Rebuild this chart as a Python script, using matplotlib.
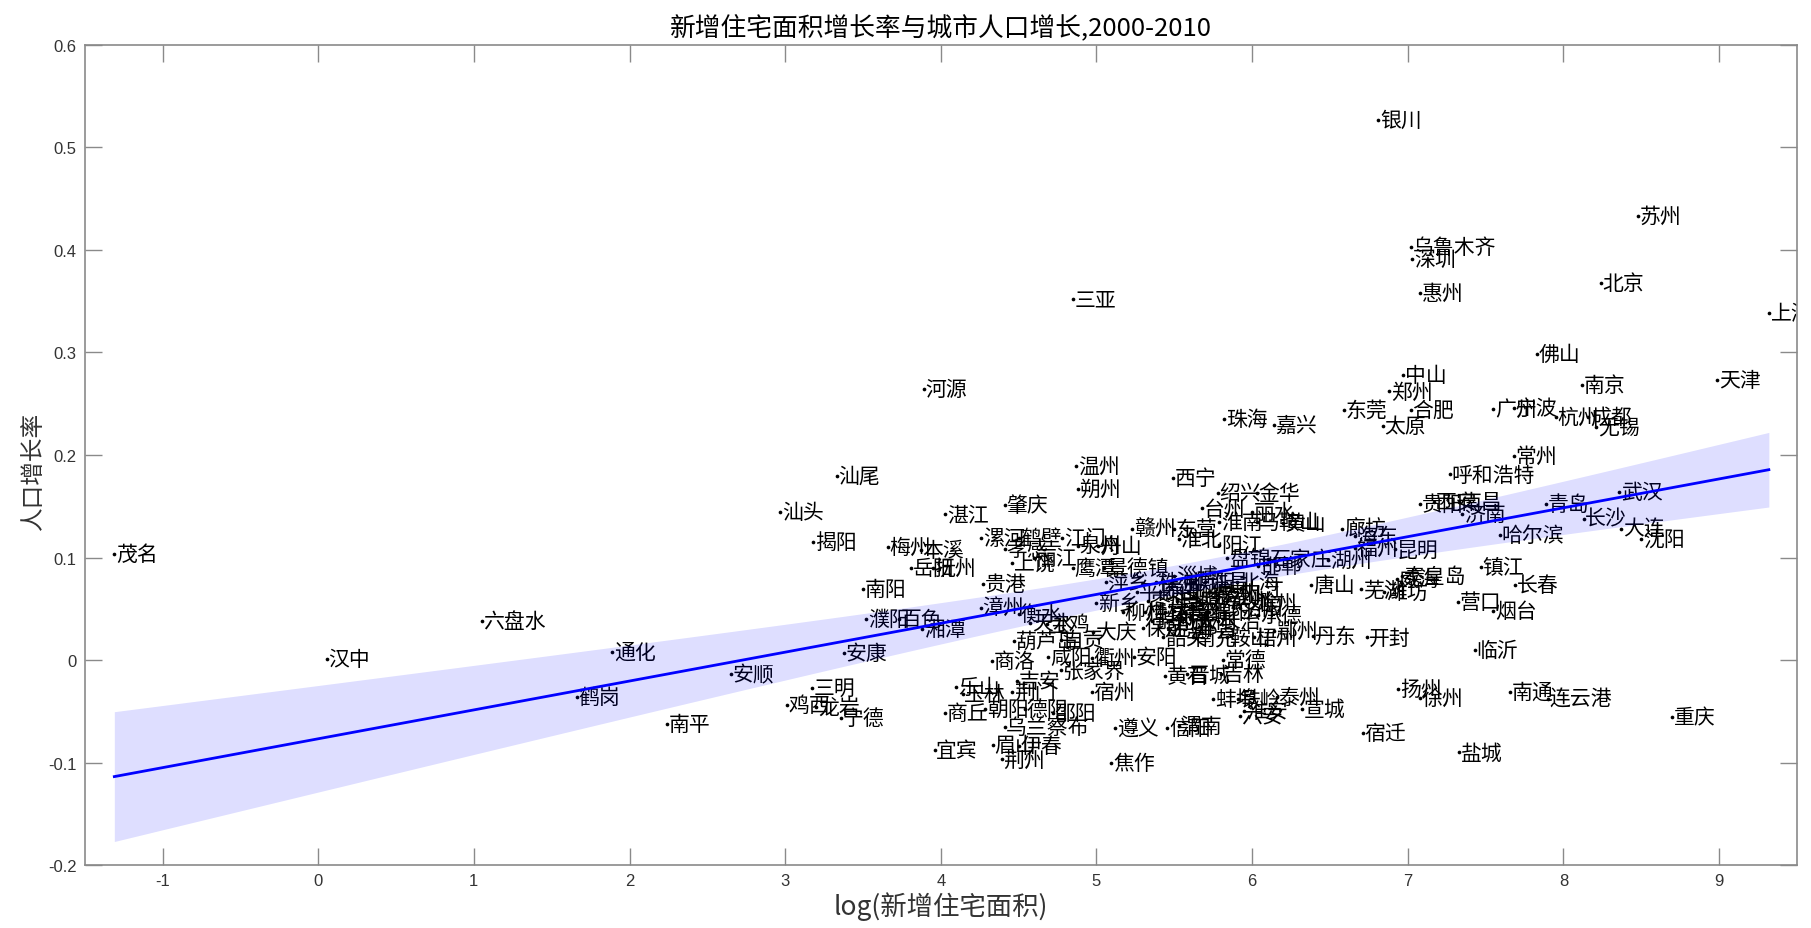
import matplotlib
matplotlib.use('Agg')
import matplotlib.pyplot as plt
import matplotlib.transforms as mtransforms
import numpy as np

plt.rcParams['font.family'] = ['Noto Sans CJK SC', 'DejaVu Sans']

# 城市, log(新增住宅面积), 人口增长率
cities = [
    '银川', '苏州', '乌鲁木齐', '深圳', '惠州', '北京', '三亚', '上海',
    '佛山', '天津', '中山', '南京', '郑州', '东莞', '合肥', '广州', '宁波',
    '杭州', '成都', '无锡', '珠海', '嘉兴', '太原', '河源', '常州', '呼和浩特',
    '温州', '朔州', '西宁', '汕尾', '汕头', '湛江', '肇庆', '绍兴', '金华',
    '台州', '丽水', '淮南', '马鞍山', '黄山', '武汉', '青岛', '长沙', '大连',
    '沈阳', '哈尔滨', '贵阳', '西安', '南昌', '济南', '廊坊', '海东', '福州',
    '昆明', '镇江', '长春', '营口', '烟台', '秦皇岛', '威海', '芜湖', '潍坊',
    '唐山', '临沂', '扬州', '徐州', '南通', '连云港', '重庆', '盐城', '宿迁',
    '开封', '丹东', '鄂州', '石家庄', '邯郸', '湖州', '盘锦', '赣州', '东营',
    '淮北', '阳江', '淄博', '北海', '九江', '洛阳', '承德', '滁州', '泸州',
    '济宁', '常德', '吉林', '黄石', '晋城', '蚌埠', '铁岭', '泰州', '宣城',
    '六安', '淮安', '信阳', '渭南', '遵义', '焦作', '宿州', '安阳', '衢州',
    '咸阳', '商洛', '张家界', '吉安', '乐山', '玉林', '荆门', '商丘', '朝阳',
    '德阳', '邵阳', '乌兰察布', '宜宾', '眉山', '伊春', '荆州', '葫芦岛',
    '自贡', '大庆', '宝鸡', '天水', '衡水', '新乡', '漳州', '贵港', '萍乡',
    '景德镇', '鹰潭', '上饶', '丽江', '孝感', '漯河', '鹤壁', '江门', '泉州',
    '舟山', '梅州', '本溪', '岳阳', '抚州', '揭阳', '南阳', '濮阳', '百色',
    '湘潭', '安康', '安顺', '三明', '鸡西', '龙岩', '宁德', '南平', '鹤岗',
    '通化', '六盘水', '汉中', '茂名',
    '株洲', '衡阳', '许昌', '平顶山', '泰安', '聊城', '德州', '枣庄', '日照',
    '菏泽', '滨州', '柳州', '桂林', '宜昌', '襄阳', '绵阳', '锦州', '包头',
    '大同', '长治', '保定', '沧州', '邢台', '南充', '鞍山', '梧州', '韶关',
]

log_area = [
    6.81, 8.48, 7.02, 7.03, 7.08, 8.24, 4.85, 9.32,
    7.83, 8.99, 6.97, 8.12, 6.88, 6.59, 7.02, 7.55, 7.68,
    7.95, 8.16, 8.21, 5.82, 6.14, 6.84, 3.89, 7.68, 7.27,
    4.87, 4.88, 5.49, 3.33, 2.97, 4.03, 4.41, 5.78, 6.03,
    5.68, 6.00, 5.79, 6.03, 6.20, 8.36, 7.89, 8.13, 8.37,
    8.50, 7.59, 7.08, 7.17, 7.33, 7.35, 6.58, 6.66, 6.66,
    6.92, 7.47, 7.69, 7.32, 7.55, 6.96, 6.93, 6.70, 6.85,
    6.38, 7.43, 6.94, 7.08, 7.66, 7.90, 8.70, 7.33, 6.71,
    6.74, 6.39, 6.14, 6.10, 6.04, 6.49, 5.84, 5.23, 5.50,
    5.53, 5.79, 5.50, 5.90, 5.93, 5.92, 6.04, 6.01, 5.78,
    5.50, 5.81, 5.80, 5.44, 5.58, 5.75, 5.91, 6.16, 6.32,
    5.92, 5.95, 5.455, 5.53, 5.12, 5.095, 4.97, 5.24, 4.97,
    4.69, 4.33, 4.77, 4.49, 4.10, 4.14, 4.46, 4.03, 4.285,
    4.54, 4.72, 4.41, 3.96, 4.335, 4.50, 4.39, 4.47,
    4.77, 4.98, 4.68, 4.575, 4.50, 5.00, 4.255, 4.27, 5.06,
    5.05, 4.85, 4.46, 4.60, 4.41, 4.26, 4.50, 4.78, 4.88,
    5.01, 3.66, 3.87, 3.81, 3.95, 3.18, 3.50, 3.52, 3.73,
    3.88, 3.38, 2.65, 3.17, 3.01, 3.20, 3.36, 2.24, 1.66,
    1.89, 1.05, 0.055, -1.31,
    5.38, 5.62, 5.70, 5.26, 5.41, 5.59, 5.73, 5.33, 5.52,
    5.66, 5.84, 5.17, 5.31, 5.44, 5.56, 5.72, 5.36, 5.48,
    5.62, 5.78, 5.30, 5.46, 5.63, 5.62, 5.84, 6.01, 5.43,
]

pop_growth = [
    0.527, 0.433, 0.403, 0.391, 0.358, 0.368, 0.352, 0.339,
    0.299, 0.273, 0.278, 0.268, 0.262, 0.244, 0.244, 0.245, 0.246,
    0.237, 0.237, 0.227, 0.235, 0.229, 0.228, 0.264, 0.199, 0.181,
    0.189, 0.167, 0.178, 0.180, 0.144, 0.142, 0.151, 0.163, 0.163,
    0.148, 0.144, 0.135, 0.135, 0.134, 0.164, 0.152, 0.138, 0.128,
    0.118, 0.122, 0.152, 0.154, 0.154, 0.142, 0.128, 0.121, 0.109,
    0.108, 0.091, 0.073, 0.057, 0.048, 0.082, 0.079, 0.069, 0.066,
    0.073, 0.010, -0.028, -0.037, -0.031, -0.038, -0.056, -0.090, -0.071,
    0.022, 0.023, 0.028, 0.099, 0.092, 0.098, 0.100, 0.128, 0.128,
    0.118, 0.112, 0.082, 0.076, 0.069, 0.051, 0.044, 0.056, 0.063,
    0.048, 0.000, -0.014, -0.016, -0.014, -0.038, -0.038, -0.036, -0.048,
    -0.055, -0.050, -0.066, -0.064, -0.066, -0.100, -0.031, 0.003, 0.002,
    0.003, -0.001, -0.010, -0.020, -0.026, -0.033, -0.031, -0.052, -0.048,
    -0.048, -0.052, -0.065, -0.088, -0.083, -0.084, -0.097, 0.019,
    0.020, 0.027, 0.035, 0.036, 0.045, 0.056, 0.051, 0.074, 0.076,
    0.090, 0.090, 0.095, 0.100, 0.108, 0.119, 0.119, 0.119, 0.111,
    0.111, 0.110, 0.107, 0.090, 0.090, 0.115, 0.069, 0.040, 0.040,
    0.030, 0.007, -0.014, -0.027, -0.044, -0.046, -0.057, -0.062, -0.036,
    0.008, 0.038, 0.001, 0.103,
    0.076, 0.076, 0.076, 0.066, 0.066, 0.066, 0.066, 0.058, 0.058,
    0.058, 0.058, 0.047, 0.047, 0.047, 0.047, 0.047, 0.038, 0.038,
    0.038, 0.038, 0.031, 0.031, 0.031, 0.022, 0.022, 0.022, 0.022,
]

x_ticks = [-1, 0, 1, 2, 3, 4, 5, 6, 7, 8, 9]
y_ticks = [0.6, 0.5, 0.4, 0.3, 0.2, 0.1, 0, -0.1, -0.2]
y_tick_labels = ['0.6', '0.5', '0.4', '0.3', '0.2', '0.1', '0', '-0.1', '-0.2']

x = np.array(log_area)
y = np.array(pop_growth)

# linear fit + 95% confidence band of the mean
b, a = np.polyfit(x, y, 1)
xs = np.linspace(x.min(), x.max(), 200)
fit = a + b * xs
n = len(x)
res = y - (a + b * x)
s = np.sqrt((res ** 2).sum() / (n - 2))
sxx = ((x - x.mean()) ** 2).sum()
half = 1.97 * s * np.sqrt(1.0 / n + (xs - x.mean()) ** 2 / sxx)

fig = plt.figure(figsize=(18.11, 9.29), dpi=100)
ax = fig.add_axes([0.0468, 0.0678, 0.9454, 0.8827])

ax.scatter(x, y, s=7, c='k', linewidths=0, zorder=3)
shift = mtransforms.offset_copy(ax.transData, fig=fig, x=1.2, y=0, units='points')
for name, xi, yi in zip(cities, log_area, pop_growth):
    ax.text(xi, yi, name, transform=shift, fontsize=15, ha='left', va='center',
            color='k', clip_on=True, zorder=2)

ax.fill_between(xs, fit - half, fit + half, color='blue', alpha=0.13, lw=0, zorder=4)
ax.plot(xs, fit, color='#0000ff', lw=2, zorder=5)

ax.set_xlim(-1.5, 9.5)
ax.set_ylim(-0.2, 0.6)
ax.set_xticks(x_ticks)
ax.set_xticklabels([str(t) for t in x_ticks])
ax.set_yticks(y_ticks)
ax.set_yticklabels(y_tick_labels)
ax.tick_params(direction='in', length=12, width=1, color='#8a8a8a', top=True, right=True,
               labelsize=12, labelcolor='#333333', pad=6)
for lab in ax.get_xticklabels() + ax.get_yticklabels():
    lab.set_family(['Liberation Sans', 'DejaVu Sans'])
for sp in ax.spines.values():
    sp.set_color('#8a8a8a')
    sp.set_linewidth(1.2)

ax.set_title('新增住宅面积增长率与城市人口增长,2000-2010', fontsize=18.5, pad=7)
ax.set_xlabel('log(新增住宅面积)', fontsize=19, color='#333333')
ax.set_ylabel('人口增长率', fontsize=17, color='#333333')
ax.xaxis.set_label_coords(0.5, -0.032)
ax.yaxis.set_label_coords(-0.023, 0.482)

fig.savefig('out.png', dpi=100)
